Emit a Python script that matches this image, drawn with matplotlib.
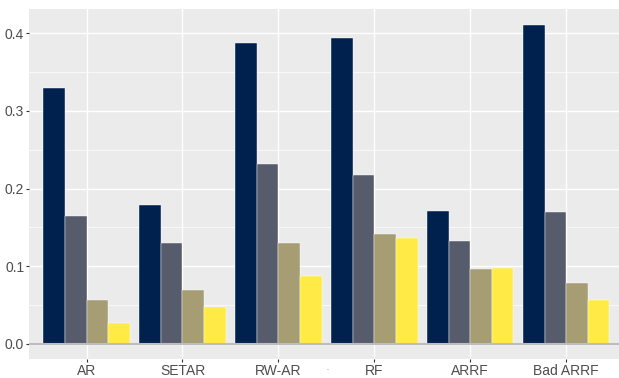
import matplotlib.pyplot as plt
import numpy as np

models = ["AR", "SETAR", "RW-AR", "RF", "ARRF", "Bad ARRF"]
s1 = [0.330, 0.179, 0.387, 0.394, 0.171, 0.410]
s2 = [0.165, 0.130, 0.232, 0.218, 0.132, 0.170]
s3 = [0.057, 0.070, 0.130, 0.142, 0.097, 0.078]
s4 = [0.027, 0.047, 0.088, 0.136, 0.098, 0.057]
series = [s1, s2, s3, s4]
colors = ["#00204D", "#575C6D", "#A69D75", "#FFEA46"]

plt.rcParams['font.family'] = ['Liberation Sans', 'DejaVu Sans']

fig = plt.figure(figsize=(6.19, 3.78), dpi=100)
ax = fig.add_axes([29/619, 1 - 359/378, 1 - 29/619, 350/378])
ax.set_facecolor("#EBEBEB")

x = np.arange(len(models))
w = 0.9 / 4
for i, vals in enumerate(series):
    ax.bar(x - 0.45 + w * (i + 0.5), vals, width=w, color=colors[i],
           edgecolor="#ffffff", linewidth=0.3, zorder=3)

ax.axhline(0, color="#BDBDBD", linewidth=1.5, zorder=4)

ax.set_xlim(-0.6, 5.55)
ax.set_ylim(-0.0193, 0.431)
ax.set_yticks([0, 0.1, 0.2, 0.3, 0.4])
ax.set_yticklabels(["0.0", "0.1", "0.2", "0.3", "0.4"])
ax.set_yticks(np.arange(0.05, 0.45, 0.1), minor=True)
ax.set_xticks(x)
ax.set_xticklabels(models)
ax.grid(True, which="major", color="white", linewidth=1.0, zorder=0)
ax.grid(True, which="minor", axis="y", color="white", linewidth=0.5, zorder=0)
ax.set_axisbelow(True)
for sp in ax.spines.values():
    sp.set_visible(False)
ax.tick_params(axis="both", which="major", colors="#333333", labelcolor="#4D4D4D",
               labelsize=10, length=2, width=0.8, pad=1.5)
ax.tick_params(which="minor", length=0)
fig.text(327/619, 1 - 372/378, ".", fontsize=5, color="#4D4D4D", ha="center", va="bottom")

fig.savefig("out.png", dpi=100)
